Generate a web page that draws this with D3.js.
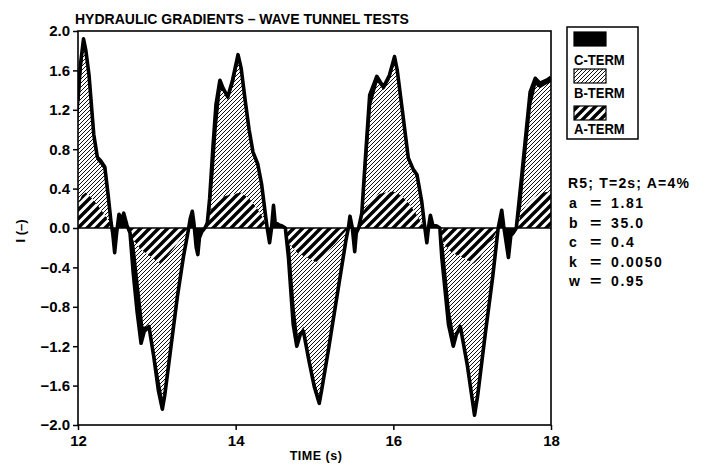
<!DOCTYPE html>
<html><head><meta charset="utf-8">
<script src="https://cdn.jsdelivr.net/npm/d3@7"></script>
<style>
body{margin:0;background:#fff;}
svg{display:block;font-family:"Liberation Sans",Arial,sans-serif;font-weight:bold;}
</style></head><body>
<svg id="chart" width="702" height="466"></svg>
<script>
// Total hydraulic gradient I = A-term + B-term + C-term
const timeTotal = [12.00,12.03,12.07,12.10,12.14,12.20,12.245,12.29,12.34,12.38,12.42,12.44,12.465,12.49,12.52,12.55,12.58,12.62,12.66,12.70,12.75,12.80,12.84,12.90,12.96,13.02,13.07,13.10,13.18,13.26,13.34,13.40,13.425,13.45,13.47,13.50,13.52,13.54,13.57,13.61,
  13.64,13.67,13.71,13.75,13.80,13.84,13.90,13.96,14.03,14.07,14.12,14.17,14.22,14.28,14.33,14.38,14.40,14.43,14.455,14.48,14.50,14.55,14.59,14.63,14.67,14.73,14.775,14.82,14.86,14.93,15.00,15.06,15.09,15.18,15.30,15.40,15.43,15.45,15.48,15.51,15.53,15.56,
  15.60,15.64,15.70,15.79,15.875,15.95,16.015,16.05,16.11,16.19,16.25,16.30,16.36,16.40,16.425,16.445,16.47,16.50,16.55,16.59,16.615,16.70,16.76,16.80,16.85,16.94,17.03,17.07,17.17,17.26,17.33,17.375,17.40,17.46,17.49,17.52,17.56,17.63,17.735,17.80,17.86,17.945,18.00];
const gradTotal = [1.30,1.65,1.92,1.80,1.55,0.95,0.72,0.68,0.62,0.35,0.05,-0.05,-0.25,-0.05,0.14,0.08,0.15,0.03,-0.05,-0.45,-0.85,-1.17,-1.05,-1.00,-1.30,-1.65,-1.84,-1.70,-1.20,-0.70,-0.28,-0.02,0.10,0.17,0.05,-0.20,-0.27,-0.10,-0.04,0.00,
  0.05,0.30,0.80,1.25,1.50,1.42,1.33,1.50,1.76,1.62,1.30,1.00,0.77,0.65,0.44,0.12,0.00,-0.15,0.00,0.23,0.06,0.03,0.02,0.00,-0.30,-0.98,-1.20,-1.08,-1.05,-1.35,-1.62,-1.78,-1.65,-1.22,-0.62,-0.12,0.00,0.12,0.00,-0.24,-0.05,0.00,
  0.15,0.64,1.35,1.54,1.43,1.55,1.74,1.60,1.22,0.71,0.60,0.54,0.27,0.00,-0.15,0.00,0.13,0.03,0.02,0.00,-0.30,-0.98,-1.20,-1.08,-1.00,-1.40,-1.90,-1.70,-1.05,-0.50,0.00,0.18,0.02,-0.30,-0.08,-0.05,0.00,0.54,1.38,1.52,1.47,1.50,1.53];

// A-term + B-term
const timeAB = [12.00,12.04,12.075,12.10,12.14,12.20,12.245,12.29,12.34,12.38,12.42,12.44,
  12.66,12.70,12.72,12.83,12.91,13.00,13.08,13.10,13.18,13.26,13.34,13.39,
  13.63,13.68,13.72,13.76,13.81,13.85,13.90,13.97,14.04,14.07,14.12,14.17,14.22,14.28,14.33,14.38,14.40,
  14.64,14.69,14.75,14.79,14.86,14.93,15.00,15.06,15.09,15.18,15.30,15.40,15.42,
  15.58,15.62,15.66,15.72,15.80,15.875,15.95,16.02,16.05,16.11,16.19,16.25,16.30,16.36,16.39,
  16.60,16.64,16.72,16.78,16.85,16.94,17.03,17.07,17.17,17.26,17.32,
  17.57,17.62,17.66,17.75,17.81,17.86,17.945,18.00];
const gradAB = [1.05,1.55,1.85,1.75,1.50,0.90,0.68,0.64,0.58,0.32,0.02,0.00,
  0.00,-0.10,-0.20,-1.00,-1.00,-1.40,-1.75,-1.66,-1.15,-0.66,-0.25,0.00,
  0.00,0.20,0.55,1.00,1.40,1.38,1.30,1.45,1.70,1.58,1.26,0.97,0.74,0.62,0.41,0.10,0.00,
  0.00,-0.20,-0.82,-1.10,-1.00,-1.28,-1.55,-1.72,-1.60,-1.18,-0.58,-0.10,0.00,
  0.00,0.20,0.62,1.25,1.48,1.40,1.50,1.68,1.56,1.18,0.68,0.57,0.51,0.24,0.00,
  0.00,-0.20,-0.85,-1.12,-0.98,-1.35,-1.83,-1.65,-1.00,-0.47,0.00,
  0.00,0.20,0.55,1.25,1.45,1.42,1.46,1.48];

// A-term alone
const timeA = [12.00,12.05,12.10,12.18,12.26,12.34,12.44,
  12.66,12.70,12.80,12.92,13.04,13.12,13.22,13.32,13.40,
  13.62,13.68,13.75,13.84,13.95,14.07,14.17,14.27,14.35,14.40,
  14.63,14.68,14.78,14.90,15.04,15.12,15.22,15.33,15.43,
  15.57,15.62,15.70,15.80,15.90,16.00,16.10,16.20,16.30,16.40,
  16.59,16.64,16.74,16.88,17.02,17.10,17.20,17.28,17.33,
  17.57,17.62,17.70,17.80,17.90,18.00];
const gradA = [0.24,0.33,0.36,0.30,0.22,0.13,0.00,
  0.00,-0.12,-0.22,-0.29,-0.36,-0.30,-0.20,-0.09,0.00,
  0.00,0.18,0.28,0.32,0.34,0.36,0.30,0.20,0.10,0.00,
  0.00,-0.16,-0.25,-0.30,-0.35,-0.30,-0.20,-0.09,0.00,
  0.00,0.17,0.28,0.34,0.36,0.37,0.33,0.25,0.13,0.00,
  0.00,-0.16,-0.25,-0.30,-0.36,-0.30,-0.18,-0.08,0.00,
  0.00,0.15,0.25,0.32,0.36,0.37];

const yTicks = [-2.0,-1.6,-1.2,-0.8,-0.4,0.0,0.4,0.8,1.2,1.6,2.0];
const xTicks = [12,14,16,18];
const legendLabels = ["C-TERM","B-TERM","A-TERM"];
const paramNames = ["a","b","c","k","w"];
const paramValues = ["1.81","35.0","0.4","0.0050","0.95"];

const svg = d3.select("#chart");
const x = d3.scaleLinear().domain([12,18]).range([78,551]);
const y = d3.scaleLinear().domain([-2,2]).range([425,31]);

const defs = svg.append("defs");
// fine hatch for the B-term
const pB = defs.append("pattern").attr("id","hatchB").attr("patternUnits","userSpaceOnUse")
  .attr("width",4).attr("height",4);
pB.append("rect").attr("width",4).attr("height",4).attr("fill","#fff");
pB.append("path").attr("d","M-1,1L1,-1M0,4L4,0M3,5L5,3").attr("stroke","#111").attr("stroke-width",1);
// coarse hatch for the A-term
const pA = defs.append("pattern").attr("id","hatchA").attr("patternUnits","userSpaceOnUse")
  .attr("width",9).attr("height",9);
pA.append("rect").attr("width",9).attr("height",9).attr("fill","#fff");
pA.append("path").attr("d","M-2,2L2,-2M0,9L9,0M7,11L11,7").attr("stroke","#000").attr("stroke-width",3.4);

defs.append("clipPath").attr("id","plotClip").append("rect")
  .attr("x",78).attr("y",31).attr("width",473).attr("height",394);

const zip = (ts, vs) => ts.map((t,i) => [t, vs[i]]);
const area = d3.area().x(d => x(d[0])).y0(y(0)).y1(d => y(d[1]));
const line = d3.line().x(d => x(d[0])).y(d => y(d[1]));

const g = svg.append("g").attr("clip-path","url(#plotClip)");
g.append("path").datum(zip(timeTotal,gradTotal)).attr("d",area).attr("fill","#000");
g.append("path").datum(zip(timeAB,gradAB)).attr("d",area).attr("fill","url(#hatchB)");
g.append("path").datum(zip(timeA,gradA)).attr("d",area).attr("fill","url(#hatchA)");
g.append("path").datum(zip(timeTotal,gradTotal)).attr("d",line)
  .attr("fill","none").attr("stroke","#000").attr("stroke-width",3.6).attr("stroke-linejoin","round");
g.append("line").attr("x1",78).attr("x2",551).attr("y1",y(0)).attr("y2",y(0))
  .attr("stroke","#000").attr("stroke-width",1.5);

// frame
svg.append("rect").attr("x",78).attr("y",31).attr("width",473).attr("height",394)
  .attr("fill","none").attr("stroke","#000").attr("stroke-width",1.6);

// axes
const yAxis = svg.append("g").attr("transform","translate(78,0)")
  .call(d3.axisLeft(y).tickValues(yTicks).tickFormat(d3.format(".1f")).tickSize(5).tickPadding(3));
const xAxis = svg.append("g").attr("transform","translate(0,425)")
  .call(d3.axisBottom(x).tickValues(xTicks).tickFormat(d3.format("d")).tickSize(5).tickPadding(5));
[yAxis,xAxis].forEach(a => {
  a.select(".domain").remove();
  a.selectAll("line").attr("stroke","#000").attr("stroke-width",1.5);
  a.selectAll("text").attr("fill","#000").style("font-size","15px").style("font-weight","bold")
    .style("font-family","'Liberation Sans',Arial,sans-serif");
});

// titles
svg.append("text").attr("x",75).attr("y",24).style("font-size","14px").text("HYDRAULIC GRADIENTS \u2013 WAVE TUNNEL TESTS");
svg.append("text").attr("x",316).attr("y",460).attr("text-anchor","middle").style("font-size","12.5px")
  .style("letter-spacing","0.5px").text("TIME (s)");
svg.append("text").attr("transform","translate(25,231) rotate(-90)").attr("text-anchor","middle")
  .style("font-size","13px").text("I (\u2013)");

// legend
const lg = svg.append("g");
lg.append("rect").attr("x",567).attr("y",27).attr("width",71).attr("height",112)
  .attr("fill","#fff").attr("stroke","#000").attr("stroke-width",1.5);
const swatchFill = ["#000","url(#hatchB)","url(#hatchA)"];
const swatchTop = [32,69,106];
const labelBase = [65,98,134];
legendLabels.forEach((lab,i) => {
  lg.append("rect").attr("x",574).attr("y",swatchTop[i]).attr("width",32).attr("height",14)
    .attr("fill",swatchFill[i]).attr("stroke","#000").attr("stroke-width",1.2);
  lg.append("text").attr("transform",`translate(574,${labelBase[i]}) scale(0.9,1)`)
    .style("font-size","14.5px").text(lab);
});

// test parameters
const pg = svg.append("g").style("font-size","14px");
pg.append("text").attr("x",568).attr("y",188).style("letter-spacing","1.2px").text("R5; T=2s; A=4%");
paramNames.forEach((n,i) => {
  const yy = 208 + i*19.5;
  pg.append("text").attr("x",569).attr("y",yy).text(n);
  pg.append("text").attr("transform",`translate(590,${yy}) scale(1.4,1)`).text("=");
  pg.append("text").attr("x",611).attr("y",yy).style("letter-spacing","1.6px").text(paramValues[i]);
});
</script></body></html>
